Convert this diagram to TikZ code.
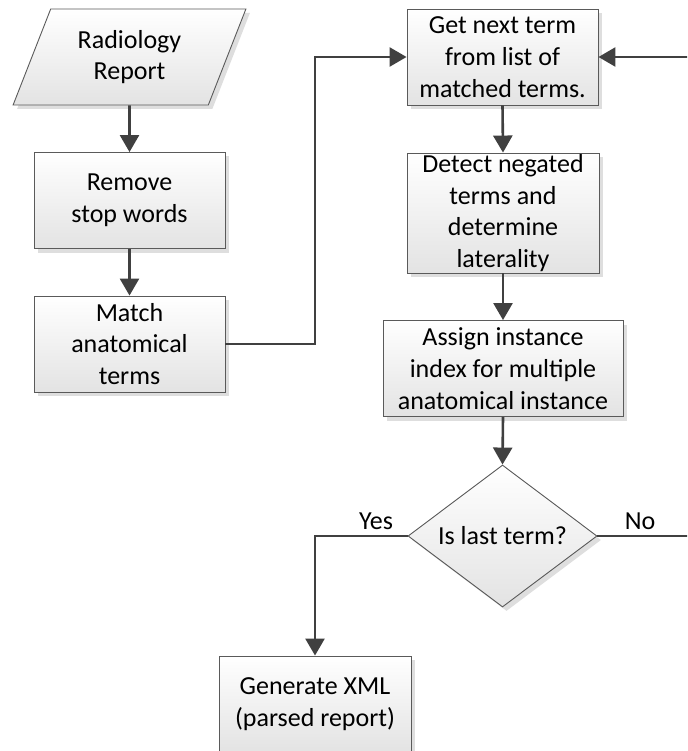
\documentclass[tikz,border=0pt]{standalone}
\usepackage{fontspec}
\setmainfont{Carlito}
\usetikzlibrary{arrows.meta,shapes.geometric,shadows}
\definecolor{linec}{HTML}{404040}
\definecolor{borderc}{HTML}{5A5A5A}
\tikzset{
  base/.style={draw=borderc, line width=0.9pt, top color=white, bottom color=black!11,
    drop shadow={shadow xshift=4pt, shadow yshift=-4pt, fill=black!13, opacity=1},
    font=\fontsize{26pt}{31.7pt}\selectfont, align=center, inner sep=0pt, text=black},
  procbox/.style={base, rectangle, minimum width=#1, minimum height=96pt},
  iobox/.style={base, trapezium, trapezium left angle=65.4, trapezium right angle=114.6,
    trapezium stretches=true, minimum width=233pt, minimum height=96pt},
  decbox/.style={base, diamond, aspect=1.33, minimum width=189pt, minimum height=142pt},
  arr/.style={draw=linec, line width=2.6pt, -{Triangle[width=19pt,length=17pt]}},
  ln/.style={draw=linec, line width=2.6pt},
  lbl/.style={font=\fontsize{26pt}{31.7pt}\selectfont, text=black, inner sep=0pt}
}
\begin{document}
\begin{tikzpicture}[x=1pt,y=-1pt]
\clip (0,0) rectangle (687,751);
\fill[white] (0,0) rectangle (687,751);
\node[iobox] (report) at (129.5,57) {Radiology\\Report};
\node[procbox=191pt] (remove) at (129.5,200.5) {Remove\\stop words};
\node[procbox=191pt] (match) at (129.5,344) {Match\\anatomical\\terms};
\node[procbox=191pt] (getnext) at (502.5,57) {Get next term\\from list of\\matched terms.};
\node[procbox=192pt, minimum height=120pt] (detect) at (503,213) {Detect negated\\terms and\\determine\\laterality};
\node[procbox=240pt] (assign) at (503,368.5) {Assign instance\\index for multiple\\anatomical instance};
\node[decbox] (dec) at (502.5,536) {Is last term?};
\node[procbox=192pt] (gen) at (315,704) {Generate XML\\(parsed report)};
\node[lbl] (yes) at (376,521) {Yes};
\node[lbl] (no) at (640,521) {No};
\coordinate (j1) at (315,344);
\coordinate (j2) at (315,536);
\coordinate (j3) at (700,536);
\coordinate (j4) at (700,57);
\draw[arr] (report.south) -- (remove.north);
\draw[arr] (remove.south) -- (match.north);
\draw[arr] (match.east) -- (j1) |- (getnext.west);
\draw[arr] (getnext.south) -- (detect.north);
\draw[arr] (detect.south) -- (assign.north);
\draw[arr] (assign.south) -- (dec.north);
\draw[arr] (dec.west) -- (j2) -- (gen.north);
\draw[arr] (dec.east) -- (j3) -- (j4) -- (getnext.east);
\end{tikzpicture}
\end{document}
